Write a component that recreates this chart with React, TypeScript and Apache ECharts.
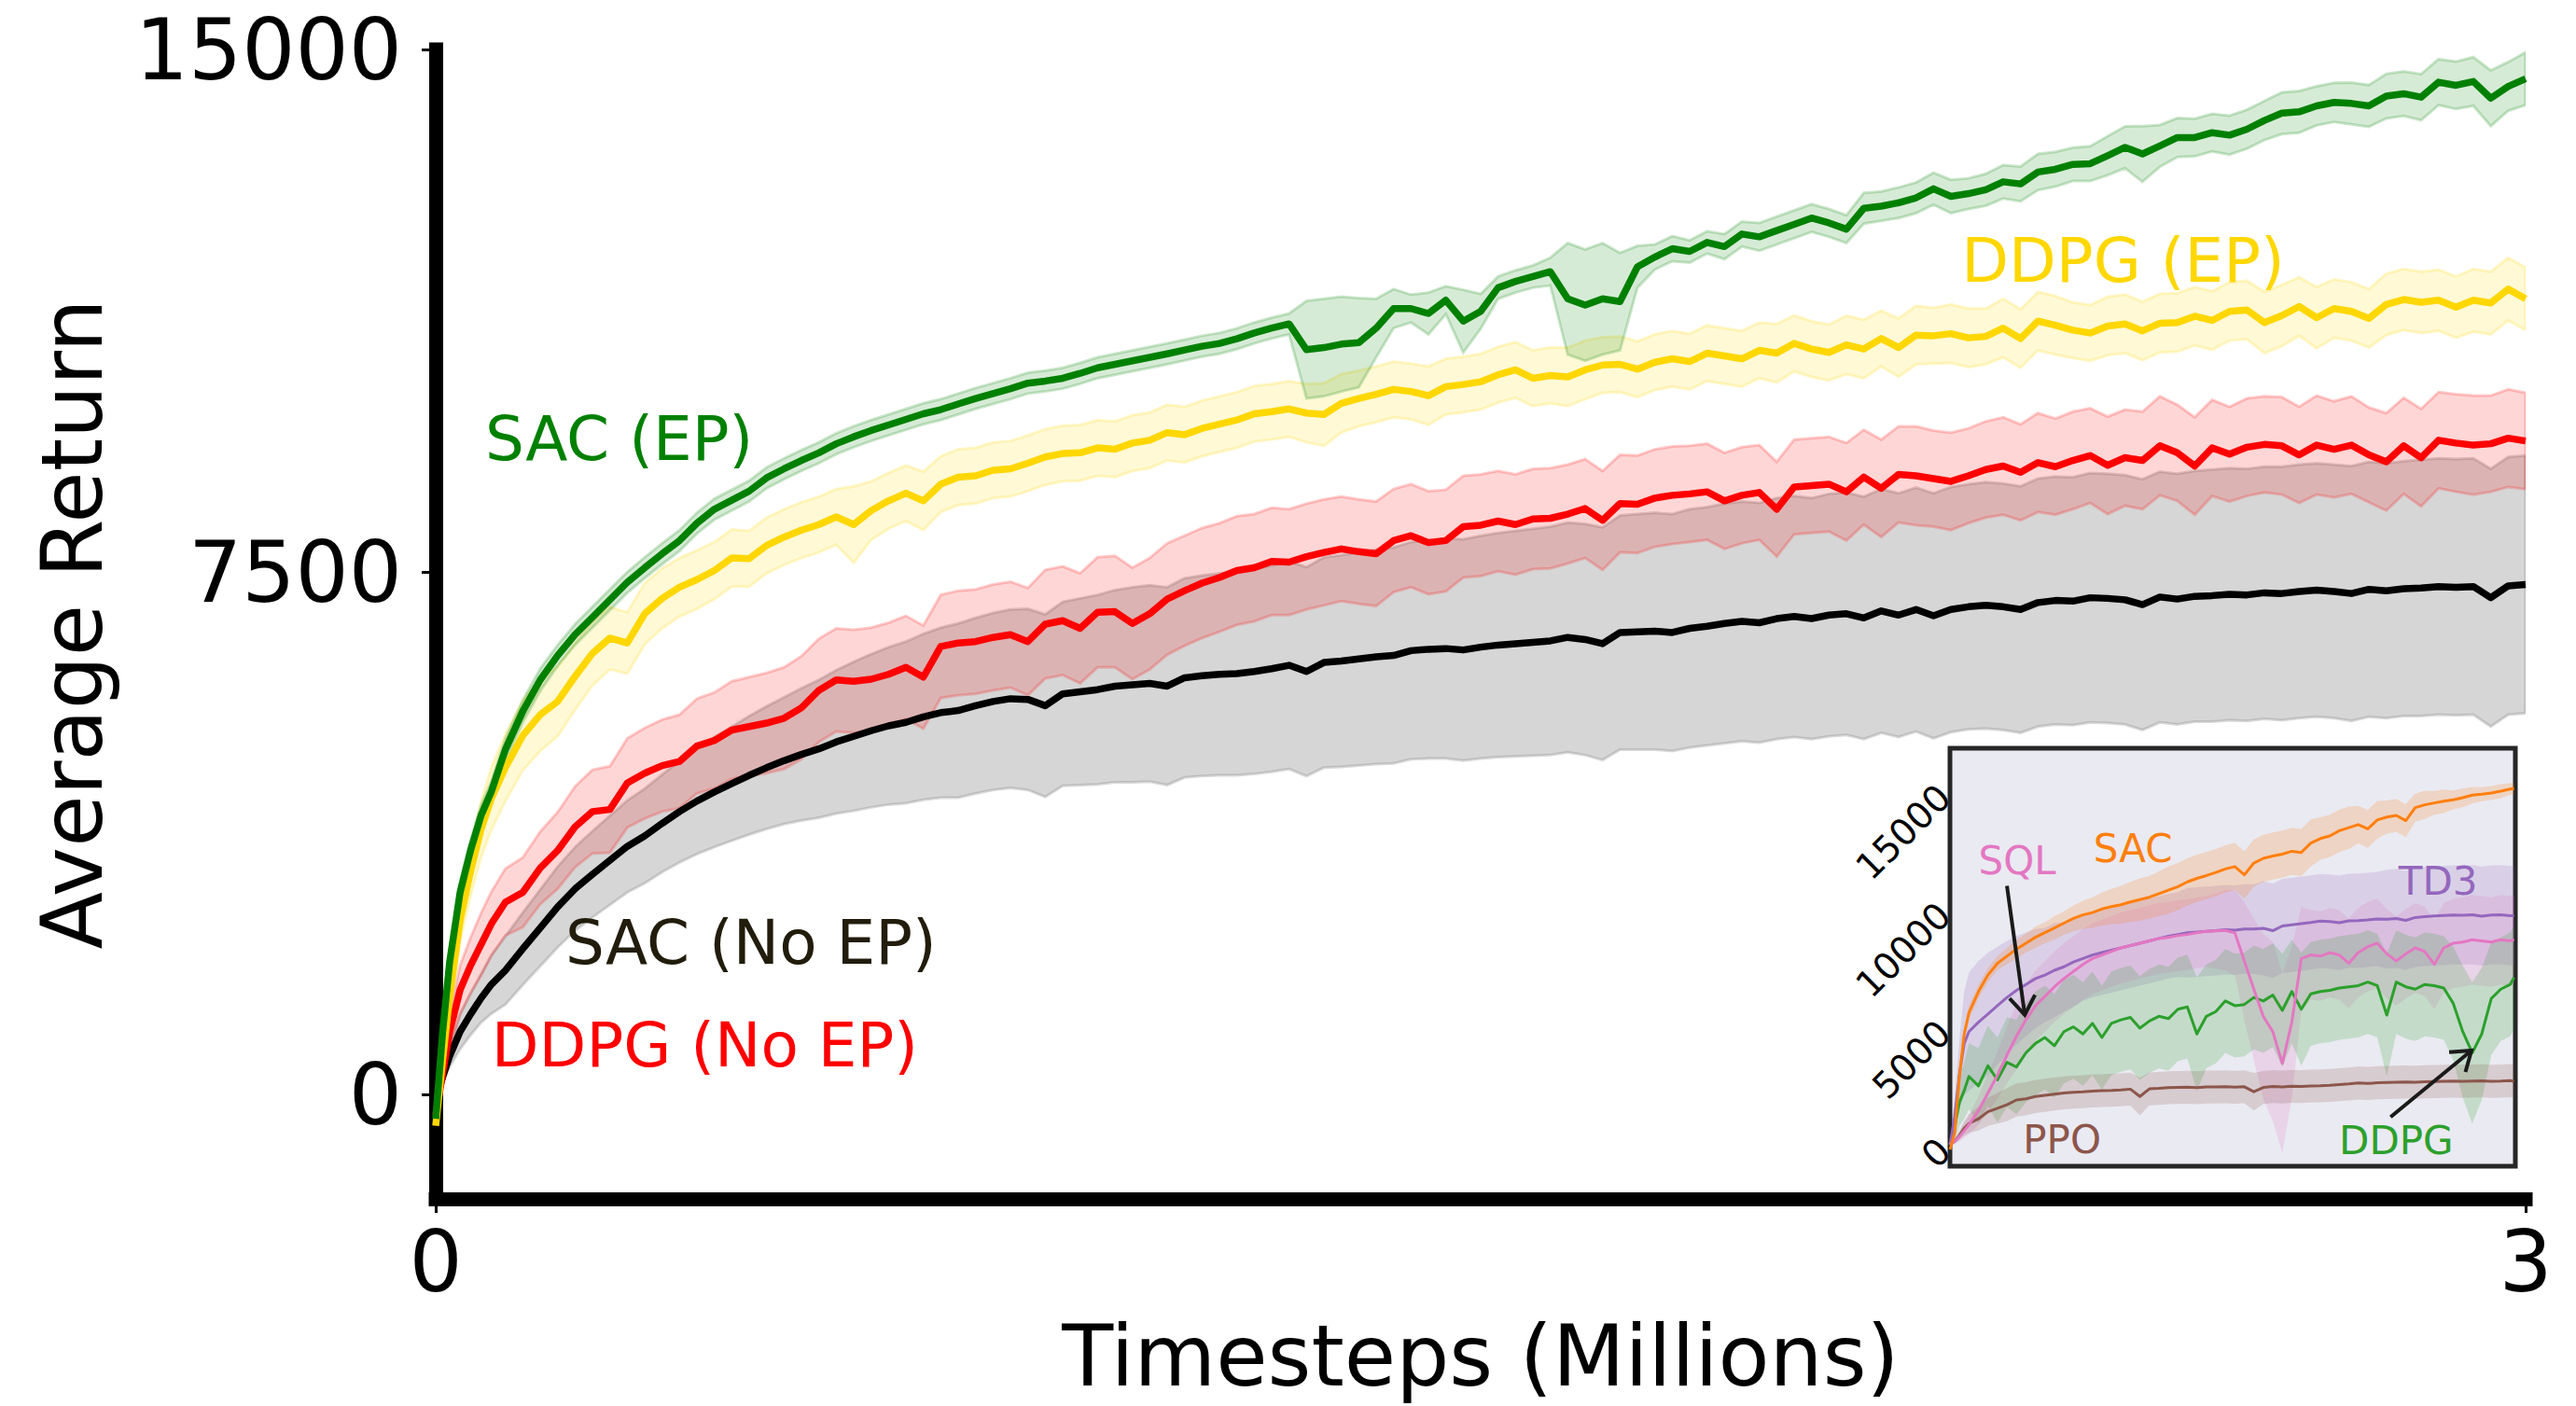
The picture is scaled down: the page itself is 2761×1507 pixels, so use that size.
import React, { useEffect, useRef } from "react";
import * as echarts from "echarts";

const FONT = "DejaVu Sans";

// ---------- main chart: timesteps (millions) ----------
const STEPS = [
  0, 0.01, 0.02, 0.035, 0.05, 0.065, 0.08,
  0.1, 0.125, 0.15, 0.175, 0.2, 0.225, 0.25, 0.275, 0.3, 0.325, 0.35, 0.375, 0.4, 0.425, 0.45, 0.475, 0.5, 0.525, 0.55, 0.575, 0.6, 0.625, 0.65, 0.675, 0.7, 0.725, 0.75, 0.775, 0.8, 0.825, 0.85, 0.875, 0.9, 0.925, 0.95, 0.975, 1.0,
  1.025, 1.05, 1.075, 1.1, 1.125, 1.15, 1.175, 1.2, 1.225, 1.25, 1.275, 1.3, 1.325, 1.35, 1.375, 1.4, 1.425, 1.45, 1.475, 1.5, 1.525, 1.55, 1.575, 1.6, 1.625, 1.65, 1.675, 1.7, 1.725, 1.75, 1.775, 1.8, 1.825, 1.85, 1.875, 1.9, 1.925, 1.95, 1.975, 2.0,
  2.025, 2.05, 2.075, 2.1, 2.125, 2.15, 2.175, 2.2, 2.225, 2.25, 2.275, 2.3, 2.325, 2.35, 2.375, 2.4, 2.425, 2.45, 2.475, 2.5, 2.525, 2.55, 2.575, 2.6, 2.625, 2.65, 2.675, 2.7, 2.725, 2.75, 2.775, 2.8, 2.825, 2.85, 2.875, 2.9, 2.925, 2.95, 2.975, 3.0,
];

const SAC_EP = [
  -350, 900, 1900, 2900, 3500, 4000, 4350,
  4950, 5500, 5950, 6300, 6600, 6850, 7100, 7350, 7560, 7760, 7950, 8200, 8400, 8530, 8660, 8850, 8980, 9100, 9210, 9340, 9440, 9530, 9610, 9690, 9770, 9830, 9910, 9990, 10060, 10130, 10210, 10240, 10280, 10350, 10430, 10480, 10530,
  10580, 10630, 10685, 10740, 10780, 10847, 10930, 11000, 11060, 10690, 10720, 10770, 10790, 11000, 11280, 11280, 11210, 11400, 11100, 11240, 11580, 11670, 11740, 11810, 11420, 11330, 11420, 11380, 11880, 12020, 12140, 12100, 12230, 12170, 12350, 12310, 12400, 12490, 12580, 12510,
  12420, 12720, 12750, 12800, 12870, 13000, 12890, 12930, 12985, 13100, 13070, 13240, 13280, 13350, 13360, 13475, 13595, 13500, 13615, 13735, 13735, 13805, 13770, 13855, 13980, 14085, 14105, 14190, 14240, 14225, 14190, 14330, 14365, 14315, 14530, 14485, 14540, 14300, 14470, 14580,
];
const SAC_EP_SPREAD = [
  0, 100, 130, 150, 150, 150, 150,
  160, 160, 160, 150, 150, 150, 150, 150, 150, 150, 150, 150, 150, 150, 150, 150, 150, 150, 150, 150, 150, 150, 150, 150, 150, 150, 150, 150, 150, 150, 150, 150, 150, 150, 150, 150, 150,
  150, 150, 150, 150, 150, 150, 150, 150, 150, 700, 700, 680, 640, 420, 280, 200, 300, 200, 450, 250, 160, 160, 160, 200, 800, 800, 800, 700, 300, 180, 180, 160, 160, 180, 180, 200, 200, 200, 200, 200,
  200, 220, 210, 220, 220, 230, 240, 220, 230, 240, 250, 260, 250, 240, 250, 280, 300, 400, 300, 280, 270, 270, 280, 280, 280, 300, 300, 280, 280, 300, 300, 320, 320, 330, 330, 340, 350, 400, 350, 380,
];

const DDPG_EP = [
  -450, 500, 1400, 2500, 3200, 3800, 4250,
  4690, 5150, 5450, 5640, 6000, 6330, 6550, 6480, 6900, 7120, 7280, 7390, 7520, 7700, 7690, 7880, 8000, 8100, 8180, 8290, 8180, 8380, 8520, 8630, 8520, 8760, 8860, 8880, 8960, 8980, 9060, 9150, 9200, 9210, 9280, 9260, 9350,
  9390, 9500, 9470, 9560, 9620, 9680, 9770, 9800, 9840, 9780, 9760, 9920, 9990, 10050, 10120, 10090, 10030, 10160, 10190, 10230, 10330, 10400, 10280, 10320, 10300, 10400, 10470, 10480, 10410, 10510, 10560, 10520, 10640, 10600, 10560, 10680, 10640, 10780, 10700, 10650,
  10760, 10700, 10850, 10720, 10900, 10890, 10920, 10860, 10880, 11000, 10850, 11100, 11040, 10970, 10930, 11030, 11060, 10960, 11070, 11080, 11170, 11110, 11240, 11260, 11080, 11180, 11310, 11150, 11280, 11240, 11140, 11340, 11410, 11370, 11400, 11300, 11400, 11360, 11560, 11420,
];
const DDPG_EP_SPREAD = [
  0, 150, 250, 300, 350, 400, 450,
  480, 500, 520, 500, 480, 460, 450, 440, 440, 430, 420, 420, 410, 410, 400, 400, 400, 400, 400, 400, 550, 420, 400, 400, 420, 400, 400, 400, 400, 400, 400, 400, 400, 400, 400, 400, 400,
  400, 400, 400, 400, 400, 400, 400, 400, 400, 420, 450, 420, 400, 400, 400, 400, 420, 400, 400, 400, 400, 400, 400, 400, 420, 420, 400, 400, 400, 400, 400, 400, 400, 400, 400, 400, 420, 400, 400, 400,
  420, 420, 400, 420, 420, 400, 420, 420, 400, 420, 420, 420, 420, 400, 400, 420, 420, 420, 420, 420, 420, 420, 420, 420, 440, 440, 420, 440, 420, 420, 420, 440, 440, 440, 440, 440, 450, 450, 450, 450,
];

const DDPG_NOEP = [
  -300, 300, 900, 1500, 1850, 2150, 2450,
  2760, 2900, 3250, 3500, 3840, 4060, 4090, 4470, 4610, 4720, 4780, 5000, 5080, 5230, 5280, 5330, 5400, 5550, 5800, 5950, 5930, 5960, 6030, 6130, 5990, 6430, 6480, 6500, 6560, 6600, 6500, 6750, 6800, 6690, 6920, 6930, 6760,
  6900, 7110, 7230, 7340, 7420, 7520, 7560, 7650, 7640, 7720, 7780, 7830, 7790, 7760, 7950, 8020, 7920, 7950, 8150, 8170, 8230, 8180, 8260, 8270, 8330, 8410, 8240, 8480, 8470, 8560, 8600, 8620, 8650, 8520, 8600, 8640, 8400, 8720, 8740, 8760,
  8650, 8860, 8700, 8900, 8880, 8840, 8800, 8880, 8970, 9020, 8930, 9070, 9010, 9100, 9170, 9030, 9140, 9100, 9310, 9210, 9020, 9280, 9190, 9290, 9330, 9310, 9180, 9320, 9260, 9320, 9180, 9080, 9310, 9140, 9390, 9350, 9320, 9340, 9420, 9380,
];
const DDPG_NOEP_SPREAD = [
  0, 150, 250, 350, 400, 450, 460,
  480, 500, 520, 550, 580, 600, 620, 640, 650, 660, 670, 680, 690, 700, 710, 720, 730, 740, 740, 740, 740, 740, 740, 740, 740, 740, 750, 750, 760, 760, 770, 780, 780, 790, 790, 800, 800,
  800, 800, 790, 790, 780, 780, 770, 770, 760, 760, 760, 750, 750, 750, 740, 740, 740, 730, 730, 730, 720, 720, 720, 720, 710, 710, 710, 700, 700, 700, 700, 690, 690, 690, 690, 680, 680, 680, 680, 680,
  700, 680, 700, 690, 710, 690, 700, 680, 690, 700, 690, 710, 690, 700, 680, 700, 690, 700, 710, 690, 700, 690, 680, 700, 690, 700, 690, 710, 690, 700, 680, 700, 690, 700, 690, 700, 710, 690, 700, 690,
];

const SAC_NOEP = [
  -100, 250, 550, 900, 1150, 1380, 1580,
  1780, 2090, 2390, 2690, 2950, 3160, 3360, 3560, 3710, 3890, 4060, 4210, 4340, 4460, 4580, 4690, 4790, 4880, 4960, 5060, 5140, 5220, 5290, 5340, 5420, 5480, 5510, 5580, 5640, 5680, 5670, 5580, 5750, 5780, 5810, 5860, 5880,
  5900, 5860, 5980, 6010, 6030, 6040, 6070, 6110, 6160, 6070, 6200, 6220, 6250, 6280, 6300, 6370, 6390, 6400, 6380, 6420, 6450, 6470, 6490, 6510, 6560, 6530, 6470, 6630, 6640, 6650, 6630, 6690, 6720, 6760, 6790, 6770, 6830, 6860, 6830, 6880,
  6900, 6840, 6940, 6880, 6960, 6870, 6960, 7000, 7020, 7000, 6960, 7060, 7090, 7080, 7130, 7120, 7100, 7030, 7140, 7110, 7150, 7160, 7180, 7170, 7200, 7190, 7220, 7240, 7220, 7190, 7250, 7230, 7260, 7270, 7290, 7280, 7290, 7130, 7300, 7320,
];
const SAC_NOEP_SPREAD = [
  0, 80, 150, 250, 300, 350, 420,
  490, 520, 550, 580, 600, 620, 640, 660, 680, 700, 730, 760, 790, 820, 850, 880, 910, 950, 990, 1030, 1070, 1100, 1130, 1160, 1190, 1220, 1250, 1260, 1270, 1280, 1300, 1310, 1320, 1340, 1360, 1380, 1400,
  1410, 1420, 1430, 1440, 1450, 1460, 1470, 1480, 1490, 1500, 1510, 1520, 1530, 1540, 1550, 1560, 1570, 1580, 1590, 1600, 1610, 1620, 1630, 1640, 1650, 1660, 1670, 1680, 1690, 1700, 1700, 1710, 1710, 1720, 1720, 1720, 1730, 1730, 1730, 1740,
  1740, 1740, 1750, 1750, 1750, 1760, 1760, 1760, 1770, 1770, 1770, 1780, 1780, 1780, 1790, 1790, 1790, 1800, 1800, 1800, 1800, 1810, 1810, 1810, 1810, 1820, 1820, 1820, 1820, 1830, 1830, 1830, 1830, 1840, 1840, 1840, 1840, 1850, 1850, 1850,
];

const MAIN_Y_TICKS = [0, 7500, 15000];
const MAIN_X_TICKS = [0, 3];

// ---------- inset ----------
const INSET_STEPS = [
  0, 0.025, 0.05, 0.075, 0.1,
  0.15, 0.2, 0.25, 0.3, 0.35, 0.4, 0.45, 0.5, 0.55, 0.6,
  0.65, 0.7, 0.75, 0.8, 0.85, 0.9, 0.95, 1.0, 1.05, 1.1,
  1.15, 1.2, 1.25, 1.3, 1.35, 1.4, 1.45, 1.5, 1.55, 1.6,
  1.65, 1.7, 1.75, 1.8, 1.85, 1.9, 1.95, 2.0, 2.05, 2.1,
  2.15, 2.2, 2.25, 2.3, 2.35, 2.4, 2.45, 2.5, 2.55, 2.6,
  2.65, 2.7, 2.75, 2.8, 2.85, 2.9, 2.95, 2.97,
];
const IN_SAC = [
  -200, 500, 2900, 4700, 5600,
  6500, 7200, 7700, 8000, 8300, 8550, 8800, 9000, 9200, 9400,
  9600, 9750, 9850, 10000, 10100, 10180, 10300, 10400, 10500, 10650,
  10800, 10950, 11150, 11300, 11420, 11550, 11700, 11800, 11450, 11950,
  12150, 12250, 12330, 12450, 12400, 12800, 12990, 13100, 13320, 13450,
  13580, 13400, 13780, 13900, 13970, 13750, 14300, 14420, 14500, 14570,
  14630, 14720, 14830, 14870, 14920, 15000, 15090, 15120,
];
const IN_SAC_SPREAD = [
  0, 200, 300, 300, 300,
  300, 300, 300, 350, 400, 400, 450, 450, 500, 500,
  550, 600, 650, 700, 750, 800, 850, 900, 900, 950,
  1000, 1000, 1000, 1000, 1000, 1000, 1000, 1000, 1000, 1000,
  1000, 1000, 1000, 1000, 1000, 1000, 900, 900, 900, 900,
  800, 800, 800, 700, 700, 700, 600, 600, 500, 500,
  400, 400, 350, 300, 300, 300, 250, 250,
];
const IN_TD3 = [
  0, 1200, 3000, 4300, 4800,
  5200, 5550, 5900, 6250, 6550, 6800, 7050, 7200, 7400, 7550,
  7750, 7900, 8050, 8150, 8250, 8350, 8450, 8550, 8650, 8750,
  8850, 8920, 8990, 9020, 9050, 9080, 9120, 9100, 9150, 9150,
  9180, 9080, 9280, 9330, 9380, 9430, 9490, 9470, 9420, 9500,
  9510, 9540, 9580, 9570, 9600, 9520, 9640, 9680, 9710, 9730,
  9750, 9740, 9760, 9700, 9750, 9760, 9720, 9730,
];
const IN_TD3_SPREAD = [
  0, 800, 1500, 2200, 2500,
  2600, 2600, 2500, 2400, 2300, 2200, 2100, 2000, 2000, 1900,
  1900, 1800, 1800, 1800, 1800, 1800, 1800, 1800, 1800, 1800,
  1800, 1800, 1900, 1900, 1900, 1900, 1900, 1900, 1900, 1900,
  2000, 2000, 2000, 2000, 2000, 2000, 2000, 2000, 2000, 2000,
  2000, 2000, 2000, 2100, 2100, 2100, 2100, 2100, 2100, 2100,
  2100, 2100, 2100, 2100, 2100, 2100, 2100, 2100,
];
const IN_SQL = [
  0, 150, 350, 600, 850,
  1450, 2200, 2950, 3800, 4600, 5300, 5900, 6300, 6700, 7050,
  7350, 7650, 7900, 8050, 8200, 8350, 8450, 8550, 8650, 8750,
  8800, 8870, 8920, 8990, 9050, 9070, 9090, 8990, 7800, 6600,
  5440, 4800, 3450, 5200, 7900, 8050, 8000, 8150, 8050, 7700,
  8150, 8400, 8550, 8100, 7800, 8100, 8350, 8200, 7650, 8350,
  8550, 8600, 8700, 8650, 8600, 8700, 8650, 8700,
];
const IN_SQL_SPREAD = [
  0, 100, 200, 300, 400,
  600, 800, 1000, 1200, 1400, 1500, 1500, 1500, 1500, 1500,
  1500, 1500, 1500, 1500, 1500, 1500, 1500, 1500, 1500, 1500,
  1500, 1500, 1500, 1500, 1500, 1600, 1700, 1800, 2500, 3000,
  3500, 3800, 3800, 3200, 2200, 1900, 1900, 1900, 1900, 1900,
  1900, 1900, 1900, 1900, 1900, 1900, 1900, 1900, 1900, 1900,
  1900, 1900, 1900, 1900, 1900, 1900, 1900, 1900,
];
const IN_DDPG = [
  0, 800, 1800, 2300, 2900,
  2500, 3350, 2750, 3500, 3300, 3900, 4300, 4550, 4200, 4800,
  5000, 4700, 5150, 4550, 5150, 5300, 5400, 4950, 5250, 5450,
  5350, 5750, 5850, 4700, 5450, 5650, 6100, 5900, 5950, 6250,
  6100, 6350, 5700, 6500, 5750, 6400, 6500, 6550, 6650, 6700,
  6750, 6900, 6750, 5500, 6900, 6700, 6600, 6800, 6750, 6650,
  6000, 4800, 3900, 4700, 6200, 6600, 6800, 7100,
];
const IN_DDPG_SPREAD = [
  0, 600, 1000, 1200, 1400,
  1600, 1700, 1800, 1900, 2000, 2100, 2200, 2200, 2200, 2200,
  2200, 2200, 2200, 2200, 2200, 2200, 2200, 2200, 2200, 2200,
  2200, 2200, 2200, 2400, 2200, 2200, 2200, 2200, 2200, 2200,
  2200, 2200, 2400, 2200, 2400, 2200, 2200, 2200, 2200, 2200,
  2200, 2200, 2200, 2600, 2200, 2200, 2200, 2200, 2200, 2200,
  2400, 2800, 3000, 2800, 2400, 2200, 2200, 2200,
];
const IN_PPO = [
  0, 150, 400, 700, 900,
  1100, 1400, 1550, 1700, 1900, 1950, 2050, 2100, 2150, 2200,
  2230, 2250, 2280, 2300, 2310, 2330, 2360, 2050, 2370, 2390,
  2420, 2430, 2440, 2420, 2450, 2450, 2460, 2440, 2460, 2250,
  2430, 2470, 2450, 2480, 2470, 2490, 2500, 2520, 2550, 2580,
  2620, 2600, 2630, 2640, 2650, 2660, 2650, 2670, 2680, 2690,
  2700, 2690, 2700, 2710, 2690, 2700, 2720, 2690,
];
const IN_PPO_SPREAD = [
  0, 100, 200, 300, 400,
  500, 600, 650, 700, 700, 700, 700, 700, 700, 700,
  700, 700, 700, 700, 700, 700, 700, 800, 700, 700,
  700, 700, 700, 700, 700, 700, 700, 700, 700, 800,
  700, 700, 700, 700, 700, 700, 700, 700, 700, 700,
  700, 700, 700, 700, 700, 700, 700, 700, 700, 700,
  700, 700, 700, 700, 700, 700, 700, 700,
];

// ---------- helpers ----------
function rgba(hex: string, a: number) {
  const h = hex.replace("#", "");
  const r = parseInt(h.slice(0, 2), 16);
  const g = parseInt(h.slice(2, 4), 16);
  const b = parseInt(h.slice(4, 6), 16);
  return `rgba(${r},${g},${b},${a})`;
}

function bandSeries(xs: number[], ys: number[], hw: number[], color: string, fillA: number, strokeA: number, lw: number, axis: number, z: number) {
  const data: number[][] = [];
  xs.forEach((x, i) => {
    if (ys[i] === undefined) return;
    const s = hw[i] ?? 0;
    data.push([x, ys[i] - s, ys[i] + s]);
  });
  return {
    type: "custom",
    xAxisIndex: axis,
    yAxisIndex: axis,
    z,
    silent: true,
    clip: true,
    data,
    encode: { x: 0, y: [1, 2] },
    renderItem: (params: any, api: any) => {
      if (params.dataIndex !== 0) return null;
      const cs = params.coordSys;
      const clampY = (p: number[]) => [p[0], Math.max(cs.y, Math.min(cs.y + cs.height, p[1]))];
      const upper = data.map((d) => clampY(api.coord([d[0], d[2]])));
      const lower = data.map((d) => clampY(api.coord([d[0], d[1]]))).reverse();
      return {
        type: "polygon",
        shape: { points: upper.concat(lower) },
        style: {
          fill: rgba(color, fillA),
          stroke: strokeA > 0 ? rgba(color, strokeA) : null,
          lineWidth: lw,
        },
      };
    },
  };
}

function lineSeries(xs: number[], ys: number[], color: string, width: number, axis: number, z: number) {
  const data: number[][] = [];
  xs.forEach((x, i) => {
    if (ys[i] !== undefined) data.push([x, ys[i]]);
  });
  return {
    type: "line",
    xAxisIndex: axis,
    yAxisIndex: axis,
    z,
    silent: true,
    showSymbol: false,
    symbol: "none",
    lineStyle: { color, width, join: "round" },
    data,
  };
}

const GREEN = "#008000";
const GOLD = "#ffd700";
const RED = "#ff0000";
const BLACK = "#000000";
const GRAY = "#808080";
const C_SAC = "#ff7f0e";
const C_TD3 = "#9467bd";
const C_SQL = "#e377c2";
const C_DDPG = "#2ca02c";
const C_PPO = "#8c564b";

function buildOption() {
  const tickFont = { fontSize: 90, fontFamily: FONT, color: "#000" };
  return {
    animation: false,
    backgroundColor: "#ffffff",
    grid: [
      { left: 467, right: 54, top: 53, bottom: 222, containLabel: false },
      {
        left: 2090, top: 802, width: 606, height: 448, show: true,
        backgroundColor: "#eaeaf2", borderColor: "#262626", borderWidth: 5, z: 3,
      },
    ],
    xAxis: [
      {
        type: "value", gridIndex: 0, min: 0, max: 3,
        axisLine: { show: true, onZero: false, lineStyle: { color: "#000", width: 15, cap: "square" } },
        axisTick: { show: true, customValues: MAIN_X_TICKS, length: 15, lineStyle: { color: "#000", width: 3 } },
        axisLabel: { show: true, customValues: MAIN_X_TICKS, margin: 22, ...tickFont, formatter: (v: number) => String(v) },
        splitLine: { show: false },
        name: "Timesteps (Millions)", nameLocation: "middle", nameGap: 123,
        nameTextStyle: { ...tickFont },
      },
      {
        type: "value", gridIndex: 1, min: 0, max: 2.977, interval: 0.5,
        axisLine: { show: false }, axisTick: { show: false }, axisLabel: { show: false },
        splitLine: { show: true, lineStyle: { color: "#ffffff", width: 2.5 } },
      },
    ],
    yAxis: [
      {
        type: "value", gridIndex: 0, min: -1500, max: 15000,
        axisLine: { show: true, onZero: false, lineStyle: { color: "#000", width: 15, cap: "square" } },
        axisTick: { show: true, customValues: MAIN_Y_TICKS, length: 15, lineStyle: { color: "#000", width: 3 } },
        axisLabel: { show: true, customValues: MAIN_Y_TICKS, margin: 36, ...tickFont, formatter: (v: number) => String(v) },
        splitLine: { show: false },
        name: "Average Return", nameLocation: "middle", nameGap: 345, nameRotate: 90,
        nameTextStyle: { ...tickFont },
      },
      {
        type: "value", gridIndex: 1, min: -910, max: 16820, splitNumber: 3,
        axisLine: { show: false }, axisTick: { show: false },
        axisLabel: {
          show: true, rotate: 45, margin: 6, fontSize: 39, fontFamily: FONT, color: "#000",
          formatter: (v: number) => (Math.abs(v % 5000) < 1e-6 ? String(v) : ""),
        },
        splitLine: { show: true, lineStyle: { color: "#ffffff", width: 2.5 } },
      },
    ],
    series: [
      bandSeries(STEPS, SAC_NOEP, SAC_NOEP_SPREAD, GRAY, 0.32, 0.3, 3, 0, 1),
      bandSeries(STEPS, DDPG_NOEP, DDPG_NOEP_SPREAD, RED, 0.16, 0.2, 3, 0, 1),
      bandSeries(STEPS, DDPG_EP, DDPG_EP_SPREAD, GOLD, 0.16, 0.2, 3, 0, 1),
      bandSeries(STEPS, SAC_EP, SAC_EP_SPREAD, GREEN, 0.16, 0.2, 3, 0, 1),
      lineSeries(STEPS, SAC_NOEP, BLACK, 7.5, 0, 2),
      lineSeries(STEPS, DDPG_NOEP, RED, 7.5, 0, 2),
      lineSeries(STEPS, DDPG_EP, GOLD, 7.5, 0, 2),
      lineSeries(STEPS, SAC_EP, GREEN, 7.5, 0, 2),

      bandSeries(INSET_STEPS, IN_TD3, IN_TD3_SPREAD, C_TD3, 0.2, 0, 0, 1, 4),
      bandSeries(INSET_STEPS, IN_SQL, IN_SQL_SPREAD, C_SQL, 0.2, 0, 0, 1, 4),
      bandSeries(INSET_STEPS, IN_SAC, IN_SAC_SPREAD, C_SAC, 0.2, 0, 0, 1, 4),
      bandSeries(INSET_STEPS, IN_DDPG, IN_DDPG_SPREAD, C_DDPG, 0.2, 0, 0, 1, 4),
      bandSeries(INSET_STEPS, IN_PPO, IN_PPO_SPREAD, C_PPO, 0.2, 0, 0, 1, 4),
      lineSeries(INSET_STEPS, IN_PPO, C_PPO, 3, 1, 5),
      lineSeries(INSET_STEPS, IN_DDPG, C_DDPG, 3, 1, 5),
      lineSeries(INSET_STEPS, IN_TD3, C_TD3, 3, 1, 5),
      lineSeries(INSET_STEPS, IN_SQL, C_SQL, 3, 1, 5),
      lineSeries(INSET_STEPS, IN_SAC, C_SAC, 3, 1, 5),
    ],
  };
}

// annotation anchors in data coordinates
const MAIN_LABELS = [
  { text: "SAC (EP)", x: 0.071, y: 9409, color: GREEN },
  { text: "DDPG (EP)", x: 2.19, y: 11970, color: GOLD },
  { text: "SAC (No EP)", x: 0.186, y: 2171, color: "#211c0b" },
  { text: "DDPG (No EP)", x: 0.08, y: 697, color: RED },
];
const INSET_LABELS = [
  { text: "SQL", x: 0.354, y: 12040, color: C_SQL },
  { text: "SAC", x: 0.964, y: 12570, color: C_SAC },
  { text: "TD3", x: 2.57, y: 11190, color: C_TD3 },
  { text: "PPO", x: 0.59, y: 236, color: C_PPO },
  { text: "DDPG", x: 2.35, y: 197, color: C_DDPG },
];
const INSET_ARROWS = [
  { from: [0.3, 10980], to: [0.394, 5510] },
  { from: [2.32, 1180], to: [2.746, 4000] },
];

function buildGraphic(chart: any) {
  const els: any[] = [];
  MAIN_LABELS.forEach((l) => {
    const p = chart.convertToPixel({ gridIndex: 0 }, [l.x, l.y]);
    els.push({
      type: "text", x: p[0], y: p[1], z: 100, silent: true,
      style: { text: l.text, fill: l.color, fontSize: 66, fontFamily: FONT, textAlign: "left", textVerticalAlign: "middle", verticalAlign: "middle" },
    });
  });
  INSET_LABELS.forEach((l) => {
    const p = chart.convertToPixel({ gridIndex: 1 }, [l.x, l.y]);
    els.push({
      type: "text", x: p[0], y: p[1], z: 100, silent: true,
      style: { text: l.text, fill: l.color, fontSize: 42, fontFamily: FONT, textAlign: "center", textVerticalAlign: "middle", verticalAlign: "middle" },
    });
  });
  INSET_ARROWS.forEach((a) => {
    const p0 = chart.convertToPixel({ gridIndex: 1 }, a.from);
    const p1 = chart.convertToPixel({ gridIndex: 1 }, a.to);
    const dx = p1[0] - p0[0];
    const dy = p1[1] - p0[1];
    const len = Math.sqrt(dx * dx + dy * dy);
    const ux = dx / len;
    const uy = dy / len;
    const hl = 24;
    const ang = (35 * Math.PI) / 180;
    const rot = (c: number, s: number) => [ -(ux * c - uy * s) * hl, -(ux * s + uy * c) * hl ];
    const h1 = rot(Math.cos(ang), Math.sin(ang));
    const h2 = rot(Math.cos(-ang), Math.sin(-ang));
    els.push({
      type: "line", z: 100, silent: true,
      shape: { x1: p0[0], y1: p0[1], x2: p1[0], y2: p1[1] },
      style: { stroke: "#1a1a1a", lineWidth: 4 },
    });
    els.push({
      type: "polyline", z: 100, silent: true,
      shape: { points: [[p1[0] + h1[0], p1[1] + h1[1]], [p1[0], p1[1]], [p1[0] + h2[0], p1[1] + h2[1]]] },
      style: { stroke: "#1a1a1a", lineWidth: 4, fill: null },
    });
  });
  return els;
}

export default function App() {
  const ref = useRef<HTMLDivElement>(null);
  useEffect(() => {
    if (!ref.current) return;
    const chart = echarts.init(ref.current, null, { renderer: "svg" });
    chart.setOption(buildOption() as any);
    chart.setOption({ graphic: buildGraphic(chart) } as any);
    return () => chart.dispose();
  }, []);
  return (
    <div
      ref={ref}
      style={{ position: "fixed", left: 0, top: 0, width: 2761, height: 1507, background: "#ffffff" }}
    />
  );
}
